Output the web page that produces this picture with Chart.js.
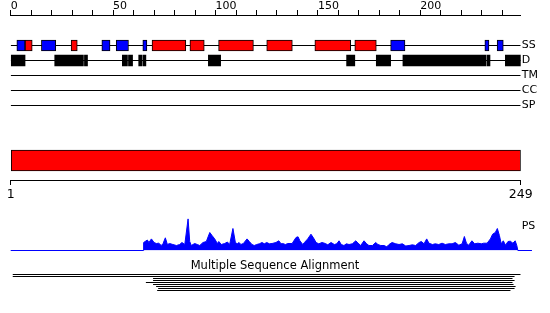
<!DOCTYPE html>
<html>
<head>
<meta charset="utf-8">
<script src="https://cdn.jsdelivr.net/npm/chart.js@4.4.1/dist/chart.umd.min.js"></script>
<style>
  html, body { margin: 0; padding: 0; background: #fff; }
  canvas { display: block; }
</style>
</head>
<body>
<canvas id="tracks" width="550" height="200"></canvas>
<canvas id="ps" width="550" height="52"></canvas>
<canvas id="msa" width="550" height="61"></canvas>
<script>
// ruler / sequence
const rulerTicks = [0, 10, 20, 30, 40, 50, 60, 70, 80, 90, 100, 110, 120, 130, 140, 150, 160, 170, 180, 190, 200, 210, 220, 230, 240];
const rulerLabels = [0, 50, 100, 150, 200];
const seqEnds = [1, 249];
const trackNames = ['SS', 'D', 'TM', 'CC', 'SP'];

// secondary structure (blue = strand, red = helix), disorder, domain
const strandSegs = [[3, 7], [15, 22], [44.5, 48.5], [51.5, 57.5], [64.5, 66.5], [185.5, 192.5], [231.5, 233.5], [237.5, 240.5]];
const helixSegs = [[7, 10.5], [29.5, 32.5], [69, 85.5], [87.5, 94.5], [101.5, 118.5], [125, 137.5], [148.5, 166], [168, 178.5]];
const disorderSegs = [[0, 7], [21.5, 35.5], [36, 37.5], [54.5, 57], [57.5, 59.5], [62.5, 64], [64.5, 66], [96.5, 102.5],
  [164, 168], [178.5, 185.5], [191.5, 232], [232.5, 234], [241.5, 249]];
const domainSegs = [[0, 249]];

// PS profile
const psPos = [0, 64.6, 64.9, 66.7, 67.5, 68.7, 70, 71.1, 72.3, 73.5, 74.4, 75.5, 76.5, 77.6, 79.2, 80.9, 82.5, 83.6, 85, 86.6,
  87.4, 88.2, 89.8, 91.1, 92.3, 93.9, 95.5, 97.2, 98.3, 99.6, 100.9, 101.6, 102.8, 104.5, 105.8, 106.9, 108.5, 109.7, 110.6,
  111.5, 112.4, 113.6, 115.4, 116.5, 117.8, 118.9, 120.1, 121.4, 122.7, 123.8, 125, 126.3, 127.6, 129.5, 130.9, 132, 132.8,
  134.1, 135.3, 137.4, 139.3, 140.3, 141.2, 142.6, 143.4, 145, 146.6, 147.8, 149.1, 150.4, 152, 153.6, 154.8, 156.4, 158,
  159.2, 160.3, 161.4, 162.7, 163.9, 165.2, 166.8, 168.5, 169.6, 170.9, 172.5, 173.8, 174.9, 176.6, 178.2, 179.3, 180.7,
  182.3, 183.6, 184.7, 186.2, 188, 189.6, 191.2, 192.9, 194.5, 196.1, 197.7, 199.4, 200.5, 201.8, 203.1, 204.2, 205.9,
  207.3, 209, 210.6, 212.2, 213.9, 215.5, 217.1, 218.8, 220.4, 221.5, 222.5, 223.6, 225.2, 226.5, 228.1, 229.8, 230.9,
  232.6, 234.2, 235.3, 236.6, 237.6, 238.6, 239.5, 240.5, 241.6, 242.8, 243.9, 245.2, 246.3, 247.1, 247.6, 254.5];
const psVal = [0, 0, 8, 10.5, 8, 11.6, 8, 7, 7.3, 5, 7, 12.7, 6, 7, 6, 5, 6, 8, 6, 31.6,
  9, 5, 7, 6, 5, 8, 9, 18, 15, 11.6, 7, 9, 6, 7, 8.5, 6, 22, 8, 6.7,
  8, 6, 7, 11.6, 9, 6, 5, 6, 6.7, 8, 6.7, 8, 6.7, 7, 8, 9.7, 6.7, 7,
  6, 7, 7, 13, 13.7, 9.7, 6, 8, 11.6, 16.3, 12.7, 8, 6.7, 8, 7, 5.7, 8, 6,
  6.7, 9.7, 6, 5, 6.7, 6, 6.7, 9.7, 7.3, 5, 9.7, 6.7, 5, 5, 8, 6, 5,
  5, 3.7, 6, 8, 6.7, 6, 6.7, 4.5, 5, 5.7, 5, 8, 9, 6.7, 11.6, 7.3, 6,
  6.7, 6, 7.3, 6, 6.7, 6.7, 8, 5.3, 6.7, 14, 7.3, 5.3, 9.7, 6.7, 7.3, 6.7, 7.3,
  7.3, 11.6, 16.3, 18, 22, 15, 6.7, 9.7, 5.3, 9, 9.3, 7.3, 9.7, 5, 0, 0];

// alignment hits: start / end residue
const msaStart = [1, 1, 69.5, 69.5, 66, 69.5, 71, 72, 71.5];
const msaEnd = [249, 246, 245, 246, 245, 245.5, 246.5, 246, 244];

// layout
const PLOT_LEFT = 10.7;
const LABEL_W = 29.3;
const ROW = { SS: 30.5, D: 45.5, TM: 60.5, CC: 75.5, SP: 90.5, domain: 145.5 };

Chart.defaults.font.family = 'DejaVu Sans';
Chart.defaults.color = '#000';
Chart.defaults.animation = false;
Chart.defaults.responsive = false;
Chart.defaults.events = [];
Chart.defaults.plugins.legend.display = false;
Chart.defaults.plugins.tooltip.enabled = false;

function hLine(a, b, y) {
  return [{ x: a, y: y }, { x: b, y: y }];
}

function lineSet(points, color) {
  return {
    type: 'line', data: points, borderColor: color, borderWidth: 1,
    pointRadius: 0, fill: false, tension: 0, order: 1, xAxisID: 'x', yAxisID: 'y'
  };
}

function barSet(segs, y, color, thick, outlined) {
  return {
    type: 'bar', indexAxis: 'y', stack: 'tracks',
    data: segs.map(s => ({ x: s, y: y })),
    backgroundColor: color, borderColor: '#000',
    borderWidth: outlined ? 1 : 0, borderSkipped: false,
    barThickness: thick, order: 0, xAxisID: 'x', yAxisID: 'y'
  };
}

// label column on the right: fixed width, no extra vertical padding
function labelColumn(s) {
  s.width = LABEL_W;
  s.paddingTop = 0;
  s.paddingBottom = 0;
}

const noAxisLines = { grid: { display: false, drawTicks: false }, border: { display: false } };

new Chart(document.getElementById('tracks'), {
  type: 'line',
  data: {
    datasets: [
      barSet(strandSegs, ROW.SS, '#0000ff', 11, true),
      barSet(helixSegs, ROW.SS, '#ff0000', 11, true),
      barSet(disorderSegs, ROW.D, '#000000', 11, false),
      barSet(domainSegs, ROW.domain, '#ff0000', 21, true),
      ...trackNames.map(n => lineSet(hLine(0, 249, ROW[n]), '#000'))
    ]
  },
  options: {
    devicePixelRatio: 1,
    layout: { padding: { left: PLOT_LEFT, right: 0, top: 0, bottom: 0 } },
    scales: {
      x: {
        type: 'linear', position: 'top', min: 0, max: 249, stacked: false,
        afterBuildTicks: s => { s.ticks = rulerTicks.map(v => ({ value: v })); },
        afterFit: s => { s.height = 15; },
        grid: { drawOnChartArea: false, tickLength: 5, color: '#000' },
        border: { color: '#000' },
        ticks: {
          autoSkip: false, maxRotation: 0, align: 'start', padding: -1.5,
          font: { size: 11, lineHeight: 1 },
          callback: v => rulerLabels.includes(v) ? String(v) : ''
        }
      },
      x2: {
        type: 'linear', position: 'bottom', min: 1, max: 249,
        afterBuildTicks: s => { s.ticks = seqEnds.map(v => ({ value: v })); },
        afterFit: s => { s.height = 20; },
        grid: { drawOnChartArea: false, tickLength: 5, color: '#000' },
        border: { color: '#000' },
        ticks: { autoSkip: false, maxRotation: 0, padding: 2.5, font: { size: 12.5 } }
      },
      y: {
        type: 'linear', position: 'right', reverse: true, min: 0, max: 165, offset: false,
        afterBuildTicks: s => { s.ticks = trackNames.map(n => ({ value: ROW[n] })); },
        afterFit: labelColumn,
        ...noAxisLines,
        ticks: { padding: 1, font: { size: 11 }, callback: (v, i) => trackNames[i] }
      }
    }
  }
});

new Chart(document.getElementById('ps'), {
  type: 'line',
  data: {
    datasets: [{
      data: psPos.map((x, i) => ({ x: x, y: psVal[i] })),
      borderColor: '#0000ff', backgroundColor: '#0000ff', borderWidth: 1,
      pointRadius: 0, fill: 'origin', tension: 0, clip: false
    }]
  },
  options: {
    devicePixelRatio: 1,
    layout: { padding: { left: PLOT_LEFT, right: 0, top: 0, bottom: 1.5 } },
    scales: {
      x: { type: 'linear', display: false, min: 0, max: 249 },
      y: {
        type: 'linear', position: 'right', min: 0, max: 50.5,
        afterBuildTicks: s => { s.ticks = [{ value: 24.5 }]; },
        afterFit: labelColumn,
        ...noAxisLines,
        ticks: { padding: 1, font: { size: 11 }, callback: () => 'PS' }
      }
    }
  }
});

new Chart(document.getElementById('msa'), {
  type: 'line',
  data: {
    datasets: msaStart.map((a, i) => lineSet(hLine(a, msaEnd[i], i), '#000'))
  },
  options: {
    devicePixelRatio: 1,
    layout: { padding: 0 },
    plugins: {
      title: {
        display: true, text: 'Multiple Sequence Alignment', color: '#000',
        font: { size: 11.5, weight: 'normal', lineHeight: 1.2 },
        padding: { top: 7.3, bottom: 0.9 }
      }
    },
    scales: {
      x: { type: 'linear', display: false, min: 0, max: 249 },
      y: {
        type: 'linear', position: 'left', reverse: true, min: -0.25, max: 19.25,
        afterFit: s => { s.width = PLOT_LEFT; },
        ...noAxisLines, ticks: { display: false }
      },
      yR: {
        type: 'linear', position: 'right',
        afterFit: labelColumn,
        ...noAxisLines, ticks: { display: false }
      }
    }
  }
});
</script>
</body>
</html>
